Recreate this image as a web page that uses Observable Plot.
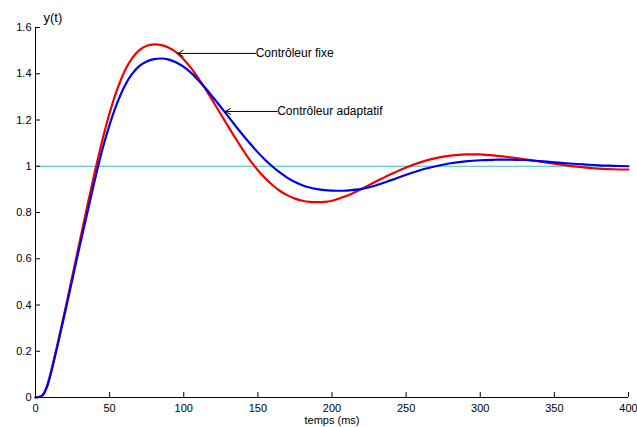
<!DOCTYPE html>
<html>
<head>
<meta charset="utf-8">
<script src="https://cdn.jsdelivr.net/npm/d3@7"></script>
<script src="https://cdn.jsdelivr.net/npm/@observablehq/plot@0.6"></script>
<style>
  html, body { margin: 0; padding: 0; background: #fff; }
  #chart { position: relative; width: 637px; height: 427px; }
  #chart svg { font-family: "Liberation Sans", Arial, sans-serif; }
</style>
</head>
<body>
<div id="chart"></div>
<script>
// Time (ms)
const tFixe = [0, 2.5, 5, 7.5, 10, 15, 20, 25, 30, 35, 40, 45, 50, 55, 60, 65, 70, 75, 80, 85, 90, 95, 100, 105, 110, 115, 120, 125, 130, 135, 140, 145, 150, 155, 160, 165, 170, 175, 180, 185, 190, 195, 200, 210, 220, 230, 240, 250, 260, 270, 280, 290, 300, 310, 320, 330, 340, 350, 360, 370, 380, 390, 400];
// Contrôleur fixe (red)
const yFixe = [0, 0.002, 0.012, 0.045, 0.10, 0.235, 0.38, 0.53, 0.68, 0.83, 0.975, 1.11, 1.23, 1.33, 1.41, 1.465, 1.502, 1.521, 1.527, 1.524, 1.512, 1.492, 1.462, 1.424, 1.379, 1.330, 1.278, 1.225, 1.172, 1.120, 1.070, 1.023, 0.983, 0.948, 0.918, 0.893, 0.874, 0.860, 0.851, 0.846, 0.845, 0.846, 0.851, 0.872, 0.902, 0.935, 0.967, 0.995, 1.018, 1.035, 1.046, 1.051, 1.051, 1.046, 1.039, 1.030, 1.021, 1.011, 1.002, 0.995, 0.990, 0.987, 0.986];
// Contrôleur adaptatif (blue)
const tAdapt = [0, 2.5, 5, 7.5, 10, 15, 20, 25, 30, 35, 40, 45, 50, 55, 60, 65, 70, 75, 80, 85, 90, 95, 100, 105, 110, 115, 120, 125, 130, 135, 140, 145, 150, 155, 160, 165, 170, 175, 180, 185, 190, 195, 200, 205, 210, 220, 230, 240, 250, 260, 270, 280, 290, 300, 310, 320, 330, 340, 350, 360, 370, 380, 390, 400];
const yAdapt = [0, 0.002, 0.011, 0.042, 0.095, 0.228, 0.37, 0.515, 0.66, 0.80, 0.94, 1.07, 1.18, 1.272, 1.345, 1.398, 1.433, 1.453, 1.463, 1.466, 1.461, 1.449, 1.430, 1.404, 1.371, 1.335, 1.296, 1.256, 1.215, 1.174, 1.134, 1.096, 1.060, 1.027, 0.998, 0.972, 0.950, 0.932, 0.918, 0.908, 0.901, 0.897, 0.895, 0.894, 0.895, 0.902, 0.918, 0.940, 0.963, 0.984, 1.000, 1.013, 1.021, 1.026, 1.028, 1.029, 1.027, 1.022, 1.017, 1.012, 1.008, 1.004, 1.002, 1.0];

const xTicks = [0, 50, 100, 150, 200, 250, 300, 350, 400];
const yTicks = [0, 0.2, 0.4, 0.6, 0.8, 1, 1.2, 1.4, 1.6];
const yTickLabels = ["0", "0.2", "0.4", "0.6", "0.8", "1", "1.2", "1.4", "1.6"];
const reference = [1];

// Annotations: label, arrow tip (t, y), label start (t)
const annLabels = ["Contrôleur fixe", "Contrôleur adaptatif"];
const annTipT = [96, 128];
const annTipY = [1.488, 1.237];
const annTextT = [148.5, 163];

const fixe = tFixe.map((t, i) => ({t, y: yFixe[i]}));
const adapt = tAdapt.map((t, i) => ({t, y: yAdapt[i]}));
const ann = annLabels.map((label, i) => ({label, x1: annTextT[i], x2: annTipT[i], y: annTipY[i]}));

const chart = Plot.plot({
  width: 637,
  height: 427,
  marginLeft: 35,
  marginRight: 9,
  marginTop: 27,
  marginBottom: 30,
  style: {fontFamily: "Liberation Sans, Arial, sans-serif", fontSize: "11px", color: "#000", background: "#fff"},
  x: {domain: [0, 400]},
  y: {domain: [0, 1.6]},
  marks: [
    Plot.ruleY(reference, {stroke: "#3fbfbf", strokeWidth: 1.2}),
    Plot.line(fixe, {x: "t", y: "y", stroke: "#f00000", strokeWidth: 2.2, curve: "catmull-rom"}),
    Plot.line(adapt, {x: "t", y: "y", stroke: "#0000f0", strokeWidth: 2.2, curve: "catmull-rom"}),
    Plot.ruleX([0], {stroke: "#000", strokeWidth: 1}),
    Plot.ruleY([0], {stroke: "#000", strokeWidth: 1}),
    Plot.axisX({ticks: xTicks, tickSize: -5, tickPadding: 12, tickFormat: d => String(d), fontSize: 11,
      label: "temps (ms)", labelAnchor: "center", labelArrow: "none", labelOffset: 26}),
    Plot.axisY({ticks: yTicks, tickSize: -5, tickPadding: 9, tickFormat: (d, i) => yTickLabels[i], fontSize: 11,
      label: null}),
    Plot.text(["y(t)"], {frameAnchor: "top-left", dx: 8, dy: -15, textAnchor: "start", fontSize: 13}),
    Plot.arrow(ann, {x1: "x1", x2: "x2", y1: "y", y2: "y", stroke: "#000", strokeWidth: 1, headLength: 9, bend: 0}),
    Plot.text(ann, {x: "x1", y: "y", text: "label", textAnchor: "start", fontSize: 12, dx: 0})
  ]
});
document.getElementById("chart").appendChild(chart);
</script>
</body>
</html>
